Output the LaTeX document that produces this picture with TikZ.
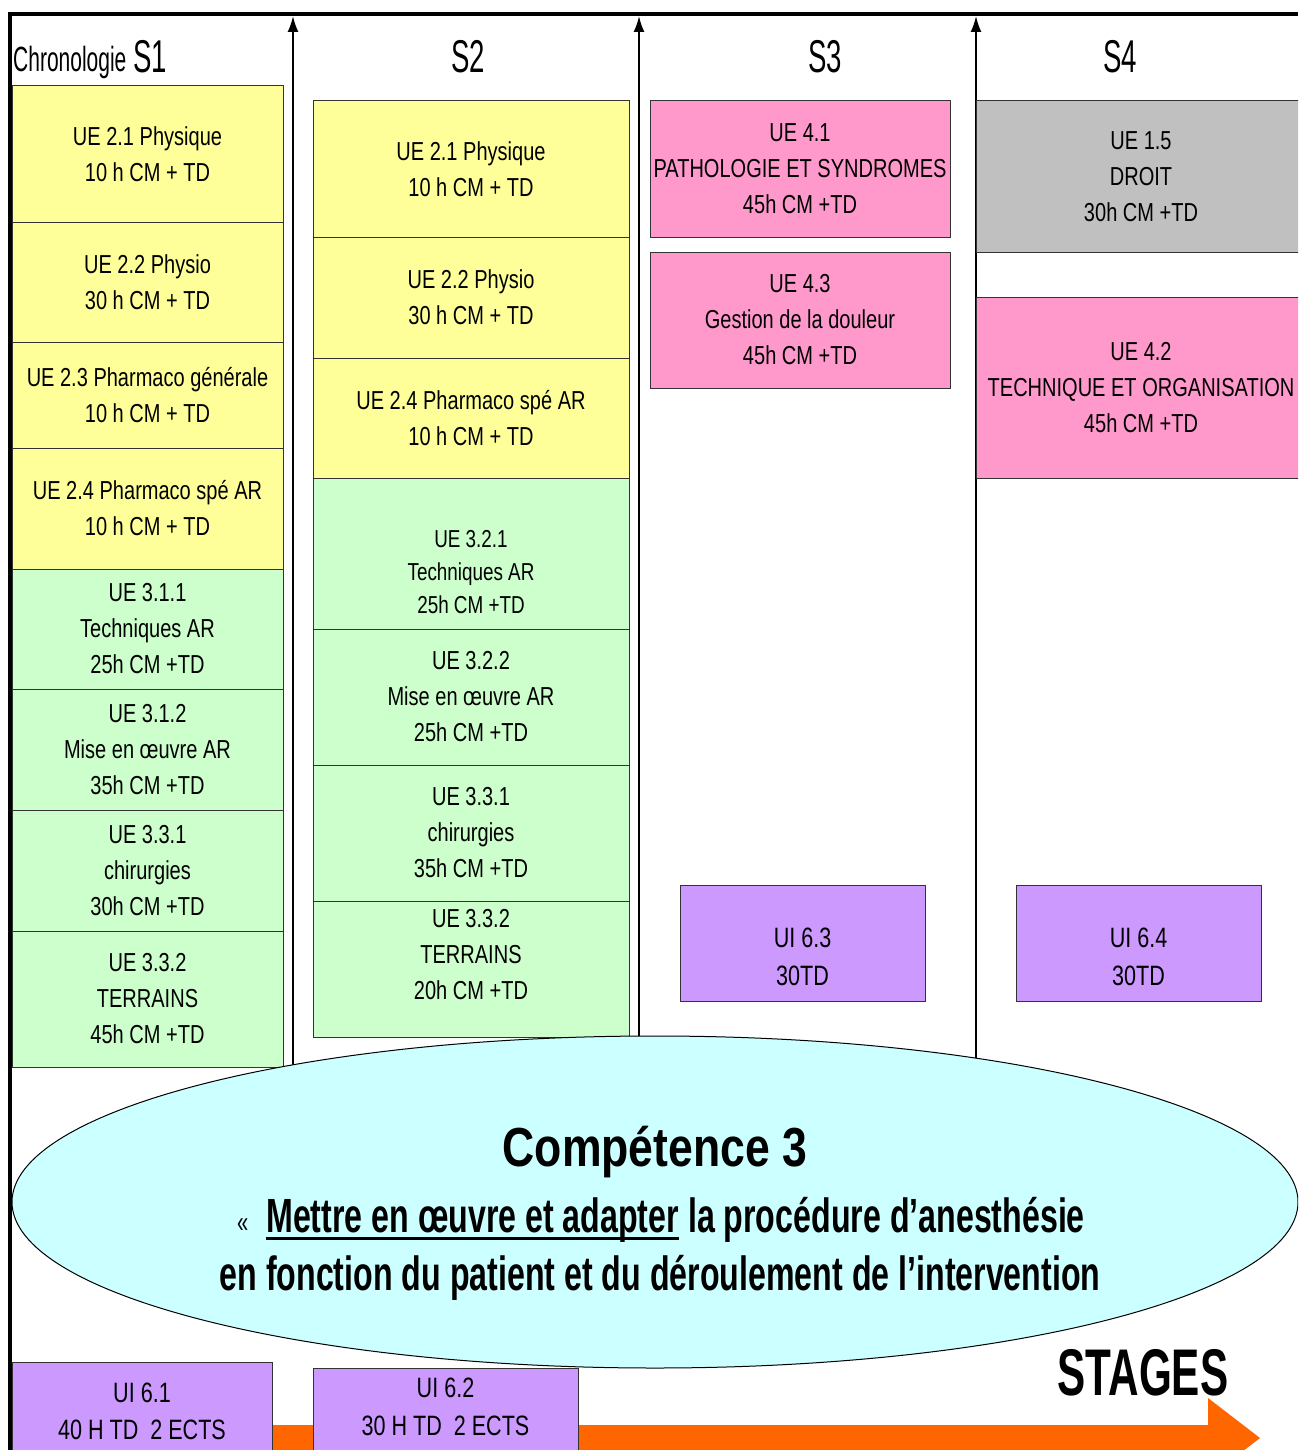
\documentclass[tikz,border=0pt]{standalone}
\usepackage{fontspec}
\usetikzlibrary{arrows.meta,shapes.geometric}
\setmainfont{Liberation Sans}
\newfontfamily\boxfont[FakeStretch=0.77]{Liberation Sans}
\newfontfamily\headfont[FakeStretch=0.6]{Liberation Sans}
\newfontfamily\compfont[FakeStretch=0.81]{Liberation Sans}
\newfontfamily\phrasefont[FakeStretch=0.67]{Liberation Sans}
\newfontfamily\stagefont[FakeStretch=0.64]{Liberation Sans}

\newsavebox\soulbox
\newcommand\souligne[1]{\sbox\soulbox{#1}\rlap{\rule[-7pt]{\wd\soulbox}{3pt}}\usebox\soulbox}

\definecolor{uejaune}{HTML}{FFFF99}
\definecolor{uevert}{HTML}{CCFFCC}
\definecolor{uerose}{HTML}{FF99CC}
\definecolor{uegris}{HTML}{C0C0C0}
\definecolor{uimauve}{HTML}{CC99FF}
\definecolor{compcyan}{HTML}{CCFFFF}
\definecolor{stageorange}{HTML}{FF6600}

\tikzset{
  ue/.style={rectangle, draw=black!80, line width=1pt, inner sep=0pt,
    align=center, font=\boxfont\fontsize{26}{36}\selectfont},
  jaune/.style={ue, fill=uejaune},
  vert/.style={ue, fill=uevert},
  rose/.style={ue, fill=uerose},
  gris/.style={ue, fill=uegris},
  mauve/.style={ue, fill=uimauve, font=\boxfont\fontsize{28}{38}\selectfont},
  colun/.style={minimum width=271pt},
  coldeux/.style={minimum width=316pt},
  coltrois/.style={minimum width=300pt},
  colquatre/.style={minimum width=330pt},
  tete/.style={anchor=base, inner sep=0pt, font=\headfont\fontsize{46}{46}\selectfont},
  axe/.style={line width=2pt, -{Latex[length=16pt,width=11pt]}}
}

\begin{document}
\begin{tikzpicture}[x=1pt, y=-1pt]
  \useasboundingbox (0,0) rectangle (1298,1450);
  \clip (0,0) rectangle (1298,1450);

  % axes of the chronology
  \draw[line width=4pt] (10,1450) -- (10,14) -- (1298,14);
  \foreach \n/\x in {1/293, 2/639, 3/976} {
    \coordinate (bas\n) at (\x,1120);
    \coordinate (haut\n) at (\x,16);
    \draw[axe] (bas\n) -- (haut\n);
  }

  % semesters
  \node[anchor=base west, inner sep=0pt, font=\headfont\fontsize{35}{35}\selectfont]
    (chrono) at (13,72) {Chronologie};
  \node[tete, anchor=base west] (s1) at (133,73) {S1};
  \node[tete] (s2) at (468,73) {S2};
  \node[tete] (s3) at (825,73) {S3};
  \node[tete] (s4) at (1120,73) {S4};

  % S1
  \node[jaune, colun, minimum height=136pt] (una) at (147.5,154) {UE 2.1 Physique\\10 h CM + TD};
  \node[jaune, colun, minimum height=120pt] (unb) at (147.5,282) {UE 2.2 Physio\\30 h CM + TD};
  \node[jaune, colun, minimum height=106pt] (unc) at (147.5,395) {UE 2.3 Pharmaco générale\\10 h CM + TD};
  \node[jaune, colun, minimum height=121pt] (und) at (147.5,508.5) {UE 2.4 Pharmaco spé AR\\10 h CM + TD};
  \node[vert, colun, minimum height=120pt] (une) at (147.5,629) {UE 3.1.1\\Techniques AR\\25h CM +TD};
  \node[vert, colun, minimum height=121pt] (unf) at (147.5,749.5) {UE 3.1.2\\Mise en œuvre AR\\35h CM +TD};
  \node[vert, colun, minimum height=121pt] (ung) at (147.5,870.5) {UE 3.3.1\\chirurgies\\30h CM +TD};
  \node[vert, colun, minimum height=136pt] (unh) at (147.5,999) {UE 3.3.2\\TERRAINS\\45h CM +TD};

  % S2
  \node[jaune, coldeux, minimum height=136pt] (dxa) at (471,169) {UE 2.1 Physique\\10 h CM + TD};
  \node[jaune, coldeux, minimum height=121pt] (dxb) at (471,297.5) {UE 2.2 Physio\\30 h CM + TD};
  \node[jaune, coldeux, minimum height=120pt] (dxc) at (471,418) {UE 2.4 Pharmaco spé AR\\10 h CM + TD};
  \node[vert, coldeux, minimum height=151pt] (dxd) at (471,553.5) {};
  \node[align=center, inner sep=0pt, font=\boxfont\fontsize{24.5}{33}\selectfont]
    (dxdt) at (471,572) {UE 3.2.1\\Techniques AR\\25h CM +TD};
  \node[vert, coldeux, minimum height=136pt] (dxe) at (471,697) {UE 3.2.2\\Mise en œuvre AR\\25h CM +TD};
  \node[vert, coldeux, minimum height=136pt] (dxf) at (471,833) {UE 3.3.1\\chirurgies\\35h CM +TD};
  \node[vert, coldeux, minimum height=136pt] (dxg) at (471,969) {};
  \node[align=center, inner sep=0pt, font=\boxfont\fontsize{26}{36}\selectfont]
    (dxgt) at (471,955) {UE 3.3.2\\TERRAINS\\20h CM +TD};

  % S3
  \node[rose, coltrois, minimum height=136pt] (tra) at (800,169) {UE 4.1\\PATHOLOGIE ET SYNDROMES\\45h CM +TD};
  \node[rose, coltrois, minimum height=136pt] (trb) at (800,320) {UE 4.3\\Gestion de la douleur\\45h CM +TD};
  \node[mauve, minimum width=245pt, minimum height=116pt] (uitr) at (802.5,943) {};
  \node[align=center, inner sep=0pt, font=\boxfont\fontsize{28}{38}\selectfont]
    (uitrt) at (802.5,957) {UI 6.3\\30TD};

  % S4
  \node[gris, colquatre, minimum height=151pt] (qta) at (1141,176.5) {UE 1.5\\DROIT\\30h CM +TD};
  \node[rose, colquatre, minimum height=181pt] (qtb) at (1141,387.5) {UE 4.2\\TECHNIQUE ET ORGANISATION\\45h CM +TD};
  \node[mauve, minimum width=245pt, minimum height=116pt] (uiqt) at (1138.5,943) {};
  \node[align=center, inner sep=0pt, font=\boxfont\fontsize{28}{38}\selectfont]
    (uiqtt) at (1138.5,957) {UI 6.4\\30TD};

  % competence
  \node[ellipse, draw, line width=1pt, fill=compcyan, inner sep=0pt,
    minimum width=1286pt, minimum height=332pt] (comp) at (655,1202) {};
  \node[inner sep=0pt, font=\compfont\bfseries\fontsize{55}{55}\selectfont]
    (comptitre) at (655,1152) {Compétence 3};
  \node[inner sep=0pt, font=\phrasefont\bfseries\fontsize{48}{48}\selectfont]
    (compun) at (661,1220) {{\mdseries\fontsize{30}{30}\selectfont «}\hspace{18pt}%
    \souligne{Mettre en œuvre et adapter} la procédure d’anesthésie};
  \node[inner sep=0pt, font=\phrasefont\bfseries\fontsize{48}{48}\selectfont]
    (compdeux) at (660,1278) {en fonction du patient et du déroulement de l’intervention};

  % stages
  \fill[stageorange] (12,1425) -- (1208,1425) -- (1208,1398) -- (1260,1438)
    -- (1208,1478) -- (1208,1451) -- (12,1451) -- cycle;
  \node[inner sep=0pt, font=\stagefont\bfseries\fontsize{66}{66}\selectfont]
    (stages) at (1143,1373) {STAGES};
  \node[mauve, minimum width=260pt, minimum height=98pt] (uiun) at (142,1411) {};
  \node[align=center, inner sep=0pt, font=\boxfont\fontsize{28}{37}\selectfont]
    (uiunt) at (142,1411) {UI 6.1\\40 H TD\ \ 2 ECTS};
  \node[mauve, minimum width=265pt, minimum height=92pt] (uidx) at (445.5,1414) {};
  \node[align=center, inner sep=0pt, font=\boxfont\fontsize{28}{38}\selectfont]
    (uidxt) at (445.5,1407) {UI 6.2\\30 H TD\ \ 2 ECTS};
\end{tikzpicture}
\end{document}
